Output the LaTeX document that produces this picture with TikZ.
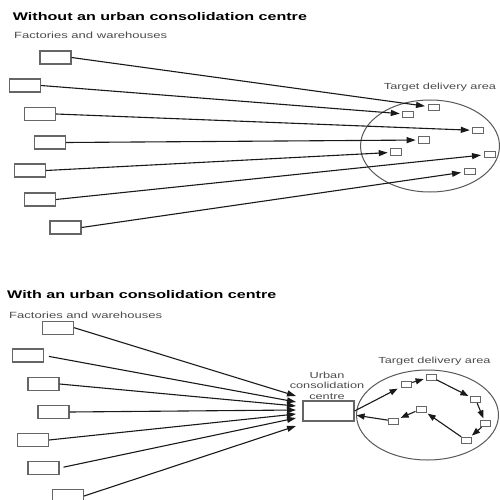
\documentclass[tikz,border=0pt]{standalone}
\usepackage{graphicx}
\usepackage{fontspec}
\setmainfont{Liberation Sans}
\usetikzlibrary{arrows.meta}
\newcommand{\widetext}[1]{\scalebox{1.45}[1]{#1}}
\begin{document}
\begin{tikzpicture}[x=1pt,y=-1pt,
  fact/.style={draw=black!60, line width=1.1pt, minimum width=31pt, minimum height=13pt, inner sep=0pt, fill=white},
  dbox/.style={draw=black!60, line width=1pt, minimum width=11pt, minimum height=6.5pt, inner sep=0pt},
  pbox/.style={draw=black!60, line width=1pt, minimum width=10pt, minimum height=6pt, inner sep=0pt},
  ucbox/.style={draw=black!60, line width=1.1pt, minimum width=51pt, minimum height=20pt, inner sep=0pt},
  link/.style={draw=black!90, line width=1.1pt, -{Triangle[length=9pt,width=6pt]}, shorten >=2.5pt},
  route/.style={draw=black!90, line width=1.1pt, -{Triangle[length=8pt,width=6pt]}, shorten >=2pt},
  area/.style={draw=black!65, line width=1pt},
  titletext/.style={anchor=west, inner sep=0pt, font=\fontsize{11.1}{13}\selectfont\bfseries},
  subtext/.style={anchor=west, inner sep=0pt, text=black!70, font=\fontsize{9}{11}\selectfont},
  lbl/.style={inner sep=0pt, text=black!70, font=\fontsize{8.8}{10.5}\selectfont, align=center}]
\useasboundingbox (0,0) rectangle (500,500);
\fill[white] (0,0) rectangle (500,500);

% ---------- top panel ----------
\node[titletext] (title1) at (12.7,16.7) {\widetext{Without an urban consolidation centre}};
\node[subtext] (sub1) at (14,35) {\widetext{Factories and warehouses}};
\draw[area] (430,146) ellipse [x radius=69.5pt, y radius=46pt];
\node[lbl] (tarea1) at (440,87.5) {\widetext{Target delivery area}};

\node[fact] (a1) at (55.5,57.5) {};
\node[fact] (a2) at (25,85.5) {};
\node[fact] (a3) at (40,114) {};
\node[fact] (a4) at (50,142.5) {};
\node[fact] (a5) at (30,170.5) {};
\node[fact] (a6) at (40,199.5) {};
\node[fact] (a7) at (65.5,227.5) {};

\node[dbox] (d1) at (433.5,107.3) {};
\node[dbox] (d2) at (408.3,114.3) {};
\node[dbox] (d3) at (478.3,130.5) {};
\node[dbox] (d4) at (424.2,140) {};
\node[dbox] (d5) at (396.2,152.2) {};
\node[dbox] (d6) at (489.5,154.3) {};
\node[dbox] (d7) at (469.5,171.3) {};

\draw[link] (a1.east) -- (d1);
\draw[link] (a2.east) -- (d2);
\draw[link] (a3.east) -- (d3);
\draw[link] (a4.east) -- (d4);
\draw[link] (a5.east) -- (d5);
\draw[link] (a6.east) -- (d6);
\draw[link] (a7.east) -- (d7);

% ---------- bottom panel ----------
\node[titletext] (title2) at (7,295) {\widetext{With an urban consolidation centre}};
\node[subtext] (sub2) at (9,315) {\widetext{Factories and warehouses}};
\draw[area] (427.5,415) ellipse [x radius=71pt, y radius=45pt];
\node[lbl] (tarea2) at (434.5,361) {\widetext{Target delivery area}};

\node[fact] (b1) at (58,327.7) {};
\node[fact] (b2) at (28,355.5) {};
\node[fact] (b3) at (43.5,384) {};
\node[fact] (b4) at (53.5,412) {};
\node[fact] (b5) at (33,440) {};
\node[fact] (b6) at (43.5,468) {};
\node[fact] (b7) at (68,496) {};

\node[ucbox] (ucc) at (328.5,411) {};
\node[lbl] (ucclbl) at (327,385.5) {\widetext{Urban}\\\widetext{consolidation}\\\widetext{centre}};

\coordinate (c1) at (296,396);
\coordinate (c2) at (296,402);
\coordinate (c3) at (296,406);
\coordinate (c4) at (296,410);
\coordinate (c5) at (296,414);
\coordinate (c6) at (296,418);
\coordinate (c7) at (296,426);

\draw[link, shorten >=0pt] (b1.east) -- (c1);
\draw[link, shorten >=0pt, shorten <=5pt] (b2.east) -- (c2);
\draw[link, shorten >=0pt] (b3.east) -- (c3);
\draw[link, shorten >=0pt] (b4.east) -- (c4);
\draw[link, shorten >=0pt] (b5.east) -- (c5);
\draw[link, shorten >=0pt, shorten <=4pt] (b6.east) -- (c6);
\draw[link, shorten >=0pt] (b7.east) -- (c7);

\node[pbox] (p1) at (406.7,384) {};
\node[pbox] (p2) at (431,377) {};
\node[pbox] (p3) at (475.7,399.7) {};
\node[pbox] (p4) at (485.7,423.7) {};
\node[pbox] (p5) at (466.3,440.3) {};
\node[pbox] (p6) at (421,409) {};
\node[pbox] (p7) at (393.3,421) {};

\draw[route, shorten >=4pt] (ucc.east) -- (p1);
\draw[route] (p1) -- (p2);
\draw[route] (p2) -- (p3);
\draw[route] (p3) -- (p4);
\draw[route] (p4) -- (p5);
\draw[route] (p5) -- (p6);
\draw[route] (p6) -- (p7);
\draw[route] (p7) -- (ucc);
\end{tikzpicture}
\end{document}
